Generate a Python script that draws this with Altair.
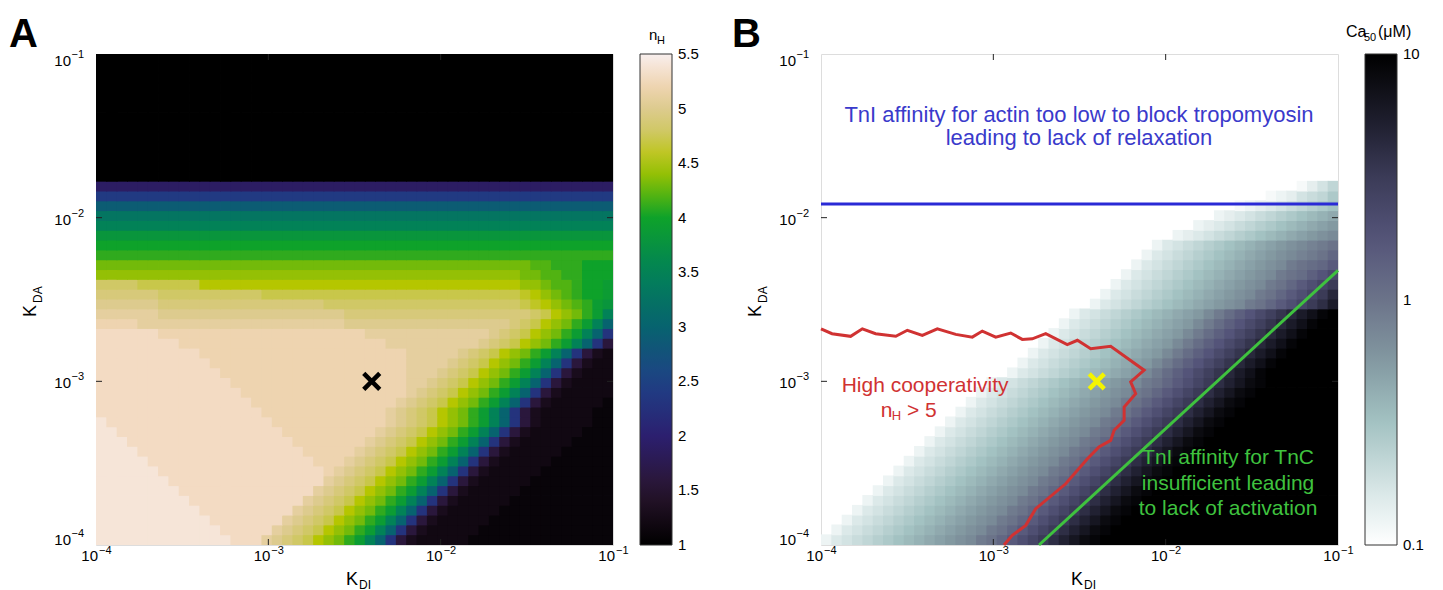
import altair as alt
import pandas as pd

FONT = "Liberation Sans"
W, H = 517, 491

# ---------------------------------------------------------------- grid
# 50 x 50 cells, log10(K) edges from -4 to -1 in 0.06 steps
GRID_LOG_MIN = -4.0
GRID_LOG_STEP = 0.06
OVERLAP = 0.005          # small overlap so neighbouring cells leave no seams
CODE = "0123456789abcdefghijklmnopqrstuvwxyzABCDEFGHIJ"

# Panel A : n_H, one string per K_DA row (bottom row first), one char per K_DI column
# char index k -> n_H = 1 + 0.1*k
SA = "FEDCBzyxvtpkd6"
NH_ROWS = [
    "I"*13 + "H"*3 + SA + "3" + "2"*5 + "1"*14,
    "I"*12 + "H"*5 + SA + "3" + "2"*5 + "1"*13,
    "I"*11 + "H"*7 + SA + "3" + "2"*5 + "1"*12,
    "I"*10 + "H"*9 + SA + "3" + "2"*5 + "1"*11,
    "I"*9 + "H"*11 + SA + "3" + "2"*5 + "1"*10,
    "I"*8 + "H"*13 + SA + "3" + "2"*5 + "1"*9,
    "I"*7 + "H"*15 + SA + "3" + "2"*5 + "1"*8,
    "I"*6 + "H"*16 + "G" + SA + "3" + "2"*5 + "1"*7,
    "I"*5 + "H"*16 + "G"*3 + SA + "3" + "2"*5 + "1"*6,
    "I"*4 + "H"*16 + "G"*5 + SA + "3" + "2"*5 + "1"*5,
    "I"*3 + "H"*16 + "G"*7 + SA + "3" + "2"*5 + "1"*4,
    "I"*2 + "H"*16 + "G"*9 + SA + "3" + "2"*5 + "1"*3,
    "I" + "H"*16 + "G"*11 + SA + "3" + "2"*5 + "1"*2,
    "H"*16 + "G"*12 + SA + "3" + "2"*5 + "1"*2,
    "H"*15 + "G"*14 + SA + "3" + "2"*5 + "1",
    "H"*14 + "G"*16 + SA + "3" + "2"*5,
    "H"*13 + "G"*17 + "F" + SA + "3" + "2"*4,
    "H"*12 + "G"*18 + "F"*2 + SA + "3" + "2"*3,
    "H"*11 + "G"*19 + "F"*3 + SA + "3" + "2"*2,
    "H"*10 + "G"*20 + "F"*4 + SA + "3" + "2",
    "H"*8 + "G"*20 + "F"*8 + SA,
    "H"*6 + "G"*20 + "F"*11 + "FEDCBzyxvtpkd",
    "G"*4 + "F"*20 + "E"*16 + "DCBzyxvtpk",
    "F"*6 + "E"*18 + "D"*18 + "CBzyxvtp",
    "E"*6 + "D"*16 + "C"*19 + "BAzyxwvts",
    "D"*6 + "C"*10 + "B"*25 + "Azyxwvuut",
    "C"*4 + "B"*6 + "z"*31 + "yyxwwvuut",
    "y"*41 + "xxwwvvuuu",
    "x"*42 + "wwvvvuuu",
    "v"*50,
    "u"*50,
    "s"*50,
    "p"*50,
    "n"*50,
    "j"*50,
    "e"*50,
    "9"*50,
] + ["0"*50]*13

# Panel B : Ca50, char index k -> log10(Ca50) = -1 + 0.05*k ('0' = white, not drawn)
PB = "2456789abcdefghjkmoqsuwyACDE"
PC = "2456789abcdefhjlnprtvxzBDE"
CA_ROWS = (
    ["0"*i + PB + "E"*(22 - i) for i in range(0, 17)]
    + ["0"*(i + 1) + PC + "E"*(23 - i) for i in range(17, 24)]
    + [
        "0"*26 + "2456789abcdefghjkmoqsuwz",
        "0"*27 + "2456789abcdefghjkmoqsux",
        "0"*28 + "2456789abcdefghjkmoqsu",
        "0"*29 + "2456789abcdefghjklnpr",
        "0"*30 + "2456789abcdefghjklmo",
        "0"*31 + "2456789abcdefghijkm",
        "0"*32 + "2456789abcdefghijk",
        "0"*34 + "23456789abcdefgh",
        "0"*36 + "23456789abcdef",
        "0"*38 + "23456789abcd",
        "0"*40 + "123456789a",
        "0"*43 + "1235679",
        "0"*46 + "1357",
    ]
    + ["0"*50]*13
)

# colour maps (piecewise, evenly spaced stops)
NH_STOPS = [1.0, 1.25, 1.5, 1.75, 2.0, 2.25, 2.5, 2.75, 3.0, 3.25, 3.5, 3.75,
            4.0, 4.25, 4.5, 4.75, 5.0, 5.25, 5.5]
NH_COLORS = ["#000000", "#150a17", "#29152e", "#2b1a50", "#2c1f6f", "#25307b",
             "#1e4186", "#13527a", "#07636f", "#047263", "#028257", "#089240",
             "#0ea22a", "#62b70c", "#b5c600", "#cdc75c", "#ddcb8e", "#f2d6b8", "#f8efee"]
NH_TICKS = [1.001, 1.5, 2, 2.5, 3, 3.5, 4, 4.5, 5, 5.499]

CA_STOPS = [-1.0, -0.75, -0.5, -0.25, 0.0, 0.25, 0.5, 0.75, 1.0]
CA_COLORS = ["#ffffff", "#d3e3e3", "#a3c2c2", "#8399a1", "#6b7389",
             "#545479", "#3b3b57", "#1b1b29", "#000000"]
CA_TICKS = [-0.999, 0, 0.999]

# axis ticks
TICK_VALUES = [1e-4, 1e-3, 1e-2, 1e-1]
TICK_EXP = ["\u22124", "\u22123", "\u22122", "\u22121"]
INNER_TICKS = [1e-3, 1e-2]

# overlays (log10 K_DI, log10 K_DA)
MARK_X, MARK_Y = -2.4, -3.0
BLUE_Y = -1.916
GREEN_X = [-2.735, -1.0]
GREEN_Y = [-4.0, -2.322]
RED_X = [-4.000, -3.936, -3.828, -3.760, -3.683, -3.566, -3.499, -3.412, -3.325, -3.218,
         -3.122, -3.064, -2.986, -2.899, -2.832, -2.774, -2.696, -2.571, -2.512, -2.435,
         -2.319, -2.125, -2.203, -2.174, -2.241, -2.241, -2.299, -2.319, -2.387, -2.454,
         -2.580, -2.754, -2.812, -2.890, -2.938]
RED_Y = [-2.679, -2.709, -2.725, -2.679, -2.709, -2.725, -2.688, -2.719, -2.679, -2.713,
         -2.730, -2.693, -2.730, -2.705, -2.744, -2.740, -2.709, -2.776, -2.749, -2.801,
         -2.786, -2.932, -3.003, -3.075, -3.157, -3.238, -3.299, -3.361, -3.401, -3.473,
         -3.626, -3.778, -3.880, -3.941, -4.000]

BLUE_TEXT = ["TnI affinity for actin too low to block tropomyosin", "leading to lack of relaxation"]
BLUE_TX, BLUE_TY = [-2.503, -2.503], [-1.413, -1.553]
GREEN_TEXT = ["TnI affinity for TnC", "insufficient leading", "to lack of activation"]
GREEN_TX, GREEN_TY = [-1.638]*3, [-3.508, -3.661, -3.814]
RED_TEXT = ["High cooperativity"]
RED_TX, RED_TY = [-3.396], [-3.068]

C_BLUE_LINE, C_BLUE_TEXT = "#2a2ad6", "#3a3acb"
C_GREEN = "#3fc23f"
C_RED = "#d03232"
C_YELLOW = "#f4f400"


def grid_frame(rows, to_value, skip=None):
    recs = []
    for i, row in enumerate(rows):
        row = (row + row[-1] * 50)[:50]
        y0 = 10 ** (GRID_LOG_MIN + GRID_LOG_STEP * i)
        y1 = 10 ** (GRID_LOG_MIN + GRID_LOG_STEP * (i + 1) + (OVERLAP if i < 49 else 0))
        for j, ch in enumerate(row):
            if ch == skip:
                continue
            x1 = 10 ** (GRID_LOG_MIN + GRID_LOG_STEP * (j + 1) + (OVERLAP if j < 49 else 0))
            recs.append(dict(x=10 ** (GRID_LOG_MIN + GRID_LOG_STEP * j), x2=x1,
                             y=y0, y2=y1, v=round(to_value(CODE.index(ch)), 3)))
    return pd.DataFrame(recs)


dfA = grid_frame(NH_ROWS, lambda k: 1 + 0.1 * k)
dfB = grid_frame(CA_ROWS, lambda k: -1 + 0.05 * k, skip="0")


def XS():
    return alt.Scale(type="log", domain=[1e-4, 1e-1], nice=False)


def YS():
    return alt.Scale(type="log", domain=[1e-4, 1e-1], nice=False)


def ex(f):
    return alt.X(f, type="quantitative", scale=XS(), axis=None)


def ey(f):
    return alt.Y(f, type="quantitative", scale=YS(), axis=None)


def heat(df, stops, colors, legend):
    return alt.Chart(df).mark_rect(strokeWidth=0).encode(
        x=ex("x"), x2="x2:Q", y=ey("y"), y2="y2:Q",
        color=alt.Color("v:Q", scale=alt.Scale(type="linear", domain=stops, range=colors,
                                               zero=False, nice=False, interpolate="rgb"),
                        legend=legend),
    )


def inner_ticks():
    d = pd.DataFrame({"t": INNER_TICKS})
    base = alt.Chart(d).mark_rule(color="#222222", strokeWidth=1)
    return [
        base.encode(x=ex("t"), y=alt.value(H), y2=alt.value(H - 6)),
        base.encode(x=ex("t"), y=alt.value(0), y2=alt.value(6)),
        base.encode(y=ey("t"), x=alt.value(0), x2=alt.value(6)),
        base.encode(y=ey("t"), x=alt.value(W), x2=alt.value(W - 6)),
    ]


def tick_labels():
    d = pd.DataFrame({"t": TICK_VALUES, "e": TICK_EXP, "b": ["10"] * 4})
    layers = [
        alt.Chart(d).mark_text(align="right", baseline="alphabetic", fontSize=15, font=FONT, dx=2)
        .encode(x=ex("t"), y=alt.value(H + 16), text="b:N"),
        alt.Chart(d).mark_text(align="left", baseline="alphabetic", fontSize=11, font=FONT, dx=3)
        .encode(x=ex("t"), y=alt.value(H + 9), text="e:N"),
    ]
    for sel, shift in (([0], -6), ([1, 2], 1), ([3], 6)):
        dd = d.iloc[sel]
        layers.append(
            alt.Chart(dd).mark_text(align="right", baseline="alphabetic", fontSize=15, font=FONT, dy=6 + shift)
            .encode(y=ey("t"), x=alt.value(-25), text="b:N"))
        layers.append(
            alt.Chart(dd).mark_text(align="right", baseline="alphabetic", fontSize=11, font=FONT, dy=-2 + shift)
            .encode(y=ey("t"), x=alt.value(-12), text="e:N"))
    return layers


def label(text, x, y, size, angle=0, align="left", weight="normal", color="black"):
    return alt.Chart(pd.DataFrame({"t": [text]})).mark_text(
        align=align, baseline="alphabetic", fontSize=size, angle=angle,
        fontWeight=weight, font=FONT, color=color
    ).encode(x=alt.value(x), y=alt.value(y), text="t:N")


def axis_titles():
    return [
        label("K", 262, H + 40, 18, align="right"),
        label("DI", 263, H + 44, 12),
        label("K", -60, 263, 18, angle=270),
        label("DA", -54, 249, 12, angle=270),
    ]


def xmark(color, size):
    d = pd.DataFrame({"x": [10 ** MARK_X], "y": [10 ** MARK_Y]})
    return alt.Chart(d).mark_point(shape="M-1,-1L1,1M1,-1L-1,1", size=size, strokeWidth=4.5,
                                   color=color, filled=False, opacity=1).encode(x=ex("x"), y=ey("y"))


def legend(values, label_expr):
    return alt.Legend(type="gradient", orient="none", legendX=544, legendY=0, direction="vertical",
                      gradientLength=H, gradientThickness=32, title=None, values=values,
                      labelExpr=label_expr, labelFontSize=15, labelFont=FONT, labelOffset=6,
                      labelColor="black", labelBaseline="middle", labelOverlap=False,
                      gradientStrokeColor="#333333", gradientStrokeWidth=1, padding=0)


# ---------------------------------------------------------------- panel A
legA = legend(NH_TICKS, "format(round(datum.value * 10) / 10, '~g')")
panelA = alt.layer(
    heat(dfA, NH_STOPS, NH_COLORS, legA),
    *inner_ticks(),
    xmark("black", 256),
    *tick_labels(),
    *axis_titles(),
    label("n", 553, -14, 15),
    label("H", 561, -10, 11),
    label("A", -87, -7, 40, weight="bold"),
).properties(width=W, height=H)

# ---------------------------------------------------------------- panel B
legB = legend(CA_TICKS, "datum.value < -0.5 ? '0.1' : datum.value < 0.5 ? '1' : '10'")

blue_df = pd.DataFrame({"x": [1e-4, 1e-1], "y": [10 ** BLUE_Y] * 2})
green_df = pd.DataFrame({"x": [10 ** v for v in GREEN_X], "y": [10 ** v for v in GREEN_Y]})
red_df = pd.DataFrame({"x": [10 ** v for v in RED_X], "y": [10 ** v for v in RED_Y],
                       "i": list(range(len(RED_X)))})


def text_layer(texts, xs, ys, color, align, size=21):
    d = pd.DataFrame({"t": texts, "x": [10 ** v for v in xs], "y": [10 ** v for v in ys]})
    return alt.Chart(d).mark_text(align=align, baseline="alphabetic", fontSize=size, font=FONT,
                                  color=color).encode(x=ex("x"), y=ey("y"), text="t:N")


panelB = alt.layer(
    heat(dfB, CA_STOPS, CA_COLORS, legB),
    *inner_ticks(),
    alt.Chart(blue_df).mark_line(color=C_BLUE_LINE, strokeWidth=3).encode(x=ex("x"), y=ey("y")),
    alt.Chart(green_df).mark_line(color=C_GREEN, strokeWidth=3).encode(x=ex("x"), y=ey("y")),
    alt.Chart(red_df).mark_line(color=C_RED, strokeWidth=3).encode(x=ex("x"), y=ey("y"), order="i:Q"),
    xmark(C_YELLOW, 225),
    text_layer(BLUE_TEXT, BLUE_TX, BLUE_TY, C_BLUE_TEXT, "center", size=22),
    text_layer(GREEN_TEXT, GREEN_TX, GREEN_TY, C_GREEN, "center"),
    text_layer(RED_TEXT, RED_TX, RED_TY, C_RED, "center"),
    text_layer(["n"], [-3.654], [-3.218], C_RED, "left"),
    text_layer(["H"], [-3.590], [-3.236], C_RED, "left", size=13),
    text_layer(["> 5"], [-3.501], [-3.218], C_RED, "left"),
    *tick_labels(),
    *axis_titles(),
    label("Ca", 525, -17, 16),
    label("50", 543, -13, 11),
    label("(\u03bcM)", 557, -17, 16),
    label("B", -89, -7, 40, weight="bold"),
).properties(width=W, height=H)

chart = (
    alt.hconcat(panelA, panelB, spacing=31)
    .resolve_scale(color="independent")
    .resolve_legend(color="independent")
    .properties(padding={"top": 6, "left": 0, "right": 0, "bottom": 0})
    .configure_view(stroke="#333333", strokeWidth=1)
    .configure_legend(gradientVerticalMaxLength=600)
    .configure(font=FONT)
)

chart.save("out.html", embed_options={"renderer": "svg", "actions": False})
